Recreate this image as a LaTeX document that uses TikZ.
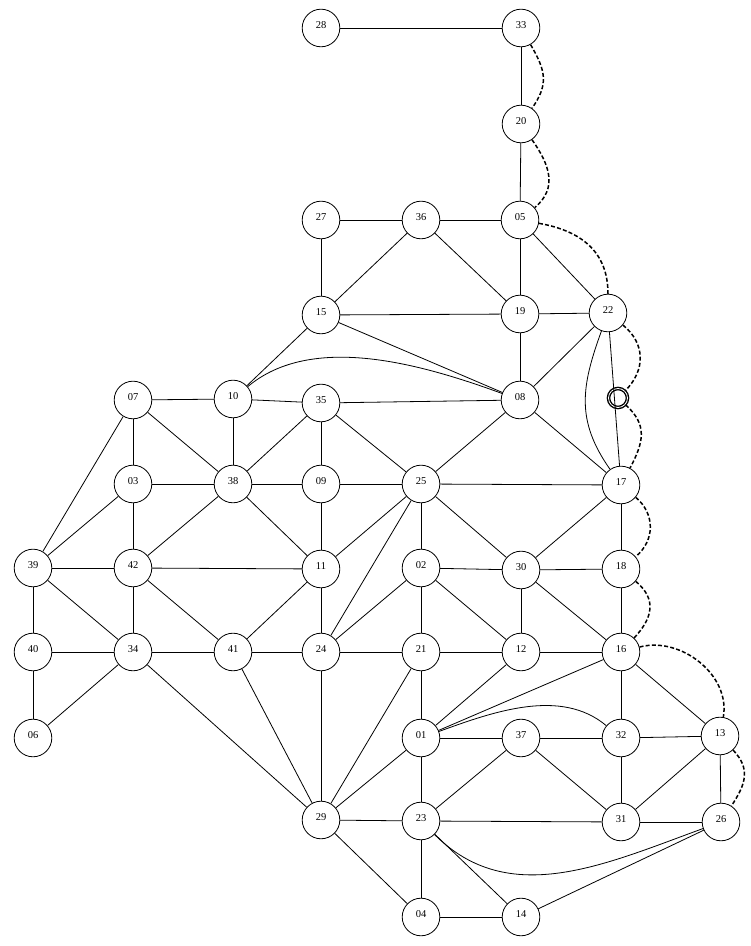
\documentclass[tikz,border=0pt]{standalone}
\usepackage{fontspec}
\setmainfont{Liberation Serif}

\begin{document}
\begin{tikzpicture}[x=1pt,y=1pt,line width=0.8pt,
  station/.style={circle,draw,minimum size=37.6pt,inner sep=0pt,
    font=\fontsize{10.5}{12}\selectfont,text height=7pt,text depth=5pt},
  relay/.style={circle,draw,double,double distance=0.8pt,line width=1.4pt,
    minimum size=19pt,inner sep=0pt},
  spare/.style={line width=1.5pt,dash pattern=on 4pt off 2.2pt}]
  \useasboundingbox (0,0) rectangle (751,946);

  \node[station] (n28) at (321,918) {28};
  \node[station] (n33) at (521,918) {33};
  \node[station] (n20) at (521,822) {20};
  \node[station] (n27) at (321,726) {27};
  \node[station] (n36) at (421,726) {36};
  \node[station] (n05) at (520,726) {05};
  \node[station] (n15) at (321,631) {15};
  \node[station] (n19) at (520,632) {19};
  \node[station] (n22) at (608,633) {22};
  \node[station] (n07) at (133,546) {07};
  \node[station] (n10) at (233,547) {10};
  \node[station] (n35) at (321,543) {35};
  \node[station] (n08) at (520,546) {08};
  \node[relay]   (via) at (618,548) {};
  \node[station] (n03) at (133,462) {03};
  \node[station] (n38) at (233,462) {38};
  \node[station] (n09) at (321,462) {09};
  \node[station] (n25) at (421,462) {25};
  \node[station] (n17) at (621,461) {17};
  \node[station] (n39) at (33,378) {39};
  \node[station] (n42) at (133,378) {42};
  \node[station] (n11) at (321,377) {11};
  \node[station] (n02) at (421,378) {02};
  \node[station] (n30) at (521,376) {30};
  \node[station] (n18) at (621,377) {18};
  \node[station] (n40) at (33,294) {40};
  \node[station] (n34) at (133,294) {34};
  \node[station] (n41) at (233,294) {41};
  \node[station] (n24) at (321,294) {24};
  \node[station] (n21) at (421,294) {21};
  \node[station] (n12) at (521,294) {12};
  \node[station] (n16) at (621,294) {16};
  \node[station] (n06) at (33,208) {06};
  \node[station] (n01) at (421,208) {01};
  \node[station] (n37) at (521,208) {37};
  \node[station] (n32) at (621,208) {32};
  \node[station] (n13) at (720,210) {13};
  \node[station] (n29) at (321,126) {29};
  \node[station] (n23) at (421,125) {23};
  \node[station] (n31) at (621,124) {31};
  \node[station] (n26) at (721,124) {26};
  \node[station] (n04) at (421,29) {04};
  \node[station] (n14) at (521,29) {14};

  \path
    (n28) edge (n33)
    (n33) edge (n20)
    (n20) edge (n05)
    (n27) edge (n36)
    (n36) edge (n05)
    (n27) edge (n15)
    (n36) edge (n15)
    (n36) edge (n19)
    (n05) edge (n19)
    (n05) edge (n22)
    (n15) edge (n19)
    (n19) edge (n22)
    (n19) edge (n08)
    (n22) edge (n08)
    (n22) edge (n17)

    (n15) edge (n10)
    (n15) edge (n08)
    (n07) edge (n10)
    (n10) edge (n35)
    (n35) edge (n08)
    (n07) edge (n03)
    (n07) edge (n38)
    (n07) edge (n39)
    (n10) edge (n38)
    (n35) edge (n38)
    (n35) edge (n09)
    (n35) edge (n25)
    (n08) edge (n25)
    (n08) edge (n17)

    (n03) edge (n38)
    (n38) edge (n09)
    (n09) edge (n25)
    (n25) edge (n17)
    (n03) edge (n39)
    (n03) edge (n42)
    (n38) edge (n42)
    (n38) edge (n11)
    (n09) edge (n11)
    (n25) edge (n11)
    (n25) edge (n24)
    (n25) edge (n02)
    (n25) edge (n30)
    (n17) edge (n30)
    (n17) edge (n18)

    (n39) edge (n42)
    (n42) edge (n11)
    (n02) edge (n30)
    (n30) edge (n18)
    (n39) edge (n40)
    (n39) edge (n34)
    (n42) edge (n34)
    (n42) edge (n41)
    (n11) edge (n41)
    (n11) edge (n24)
    (n02) edge (n21)
    (n02) edge (n12)
    (n02) edge (n24)
    (n30) edge (n12)
    (n30) edge (n16)
    (n18) edge (n16)

    (n40) edge (n34)
    (n34) edge (n41)
    (n41) edge (n24)
    (n24) edge (n21)
    (n21) edge (n12)
    (n12) edge (n16)
    (n40) edge (n06)
    (n34) edge (n06)
    (n34) edge (n29)
    (n41) edge (n29)
    (n24) edge (n29)
    (n21) edge (n01)
    (n21) edge (n29)
    (n12) edge (n01)
    (n16) edge (n01)
    (n16) edge (n32)
    (n16) edge (n13)

    (n01) edge (n37)
    (n37) edge (n32)
    (n32) edge (n13)
    (n37) edge (n23)
    (n37) edge (n31)
    (n32) edge (n31)
    (n13) edge (n31)
    (n13) edge (n26)
    (n01) edge (n29)
    (n01) edge (n23)
    (n29) edge (n23)
    (n23) edge (n31)
    (n31) edge (n26)
    (n29) edge (n04)
    (n23) edge (n04)
    (n23) edge (n14)
    (n04) edge (n14)
    (n14) edge (n26);

  % bent links
  \path
    (n10) edge[out=40,in=160,looseness=0.85] (n08)
    (n22) edge[out=250,in=125,looseness=1.1] (n17)
    (n01) edge[out=20,in=140,looseness=0.9] (n32)
    (n23) edge[out=-45,in=200] (n26);

  % dashed back-up links
  \path[spare]
    (n33) edge[out=-60,in=55,looseness=1.2] (n20)
    (n20) edge[out=-55,in=40,looseness=1.15] (n05)
    (n05) edge[out=-10,in=90,looseness=1.1] (n22)
    (n22) edge[out=-39,in=45,looseness=1.13] (via)
    (via) edge[out=-42,in=62,looseness=1.2] (n17)
    (n17) edge[out=-40,in=40,looseness=1.1] (n18)
    (n18) edge[out=-40,in=47,looseness=1.25] (n16)
    (n16) edge[out=15,in=80] (n13)
    (n13) edge[out=-47,in=57,looseness=1.2] (n26);
\end{tikzpicture}
\end{document}
